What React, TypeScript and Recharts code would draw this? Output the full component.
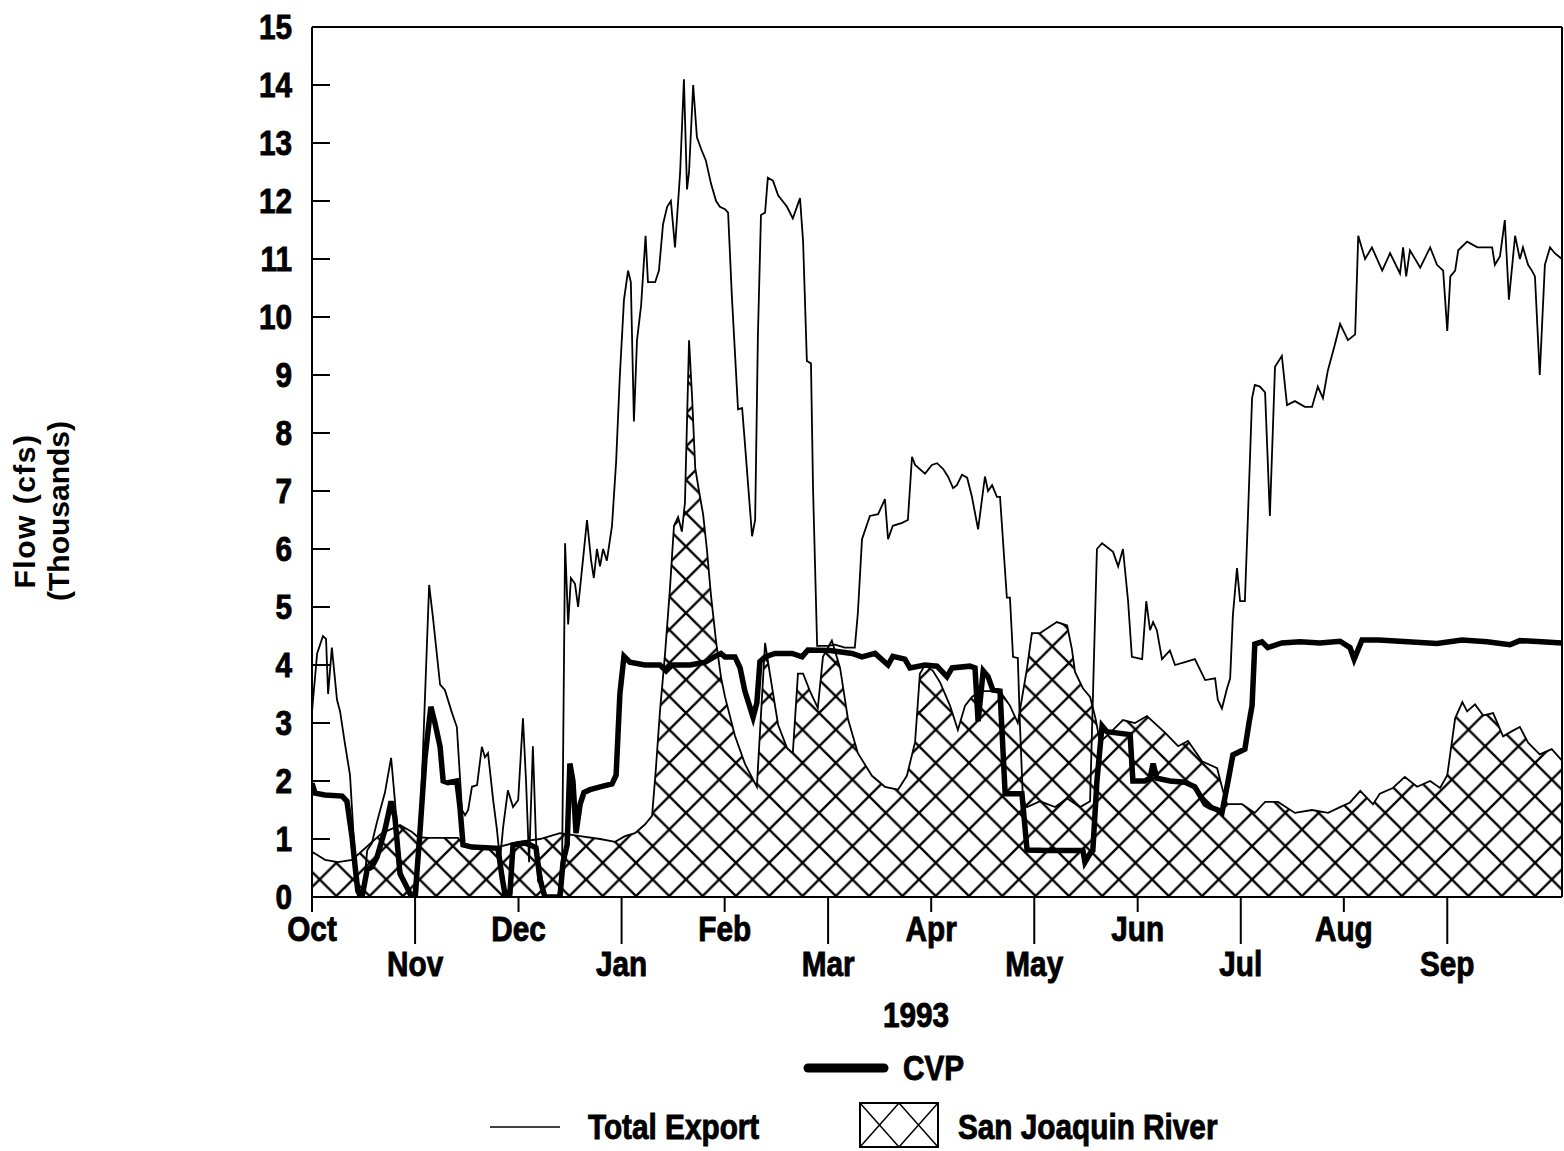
import React from 'react'
import { ComposedChart, Line, Area, XAxis, YAxis, ReferenceLine } from 'recharts'

// water year 1993, x = day since 1 Oct 1992
const monthLabels = ['Oct', 'Nov', 'Dec', 'Jan', 'Feb', 'Mar', 'Apr', 'May', 'Jun', 'Jul', 'Aug', 'Sep']
const monthTicks = [0, 30.1, 60.3, 90.4, 120.5, 150.7, 180.8, 210.9, 241.1, 271.2, 301.3, 331.5]
const flowTicks = [0, 1, 2, 3, 4, 5, 6, 7, 8, 9, 10, 11, 12, 13, 14, 15]

// Total Export (thousand cfs)
const exportDays = [
  0, 1.5, 3.2, 4.1, 4.7, 5.8, 7.3, 8.2, 9.6, 11.1, 12.6, 13.4, 14.9, 16.1, 17.5, 19, 21.3, 23.1, 24.2, 25.7,
  27.2, 28.6, 30.7, 32.4, 34.2, 35.3, 37.4, 38.8, 40.9, 42.3, 43.8, 44.7, 45.6, 46.7, 48.2, 49.6, 50.5, 51.4,
  52.9, 54, 54.9, 55.8, 57.2, 58.7, 60.2, 61.6, 62.5, 63.4, 64.5, 65.4, 66, 66.9, 68, 71.8, 73, 73.9, 74.8,
  75.6, 76.8, 77.7, 79.1, 80.3, 81.5, 82.3, 83.2, 84.1, 85, 86.1, 87.6, 88.8, 89.9, 91.1, 92.3, 93.1, 94,
  94.9, 96.1, 97.4, 98.1, 100.2, 101.3, 102.5, 103.7, 104.8, 106, 107.5, 108.6, 109.5, 110.1, 111.3, 112.4,
  113.6, 115, 116.5, 118, 119.1, 120.6, 121.5, 122.6, 124.4, 125.6, 126.4, 128.5, 129.4, 130.2, 131.1, 132.3,
  133.1, 134.6, 136.1, 138.7, 140.4, 142.5, 143.4, 144.5, 145.7, 146.3, 147.5, 150.7, 152.7, 155.6, 158.5,
  159.4, 160.6, 162.9, 165.3, 167.3, 168.2, 169.6, 172.3, 174, 175.2, 176.1, 179, 181, 182.5, 184.3, 185.7,
  187.2, 188.3, 189.8, 191.3, 192.7, 194.5, 196.5, 197.4, 198.6, 200, 200.9, 202.9, 203.8, 204.7, 206.1,
  206.7, 207.6, 208.8, 212.6, 217, 220.5, 224.3, 227.2, 229.2, 230.7, 233.9, 235.4, 236.8, 238.3, 239.4,
  242.4, 243.6, 244.7, 245.6, 246.7, 248.2, 250.5, 252, 254.9, 257.8, 260.8, 263.7, 264.5, 265.7, 267.2,
  268.1, 268.9, 270.1, 271, 272.4, 273.3, 274.5, 275.3, 276.8, 278.3, 279.7, 281.2, 283.2, 284.7, 287,
  289.9, 292, 293.7, 295.2, 296.6, 298.7, 300.2, 302.5, 304.6, 305.5, 307.5, 309.5, 312.5, 314.8, 317.7,
  318.6, 319.5, 320.6, 323.6, 326.5, 328.5, 330.3, 331.5, 332.4, 333.8, 334.7, 337.3, 340.3, 344.6, 345.4,
  346.9, 348.3, 349.5, 351.3, 352.7, 353.6, 355.1, 356.2, 357.1, 358.5, 360, 361.5, 362.9, 365,
]
const exportFlow = [
  3.2, 4.2, 4.5, 4.45, 3.5, 4.3, 3.4, 3.2, 2.65, 2.1, 0.6, 0, 0, 0.8, 0.93, 1.3, 1.8, 2.4, 1.67, 0.5,
  0.25, 0, 0, 2.5, 5.38, 4.83, 3.66, 3.57, 3.17, 2.93, 1.5, 1.41, 1.5, 1.9, 1.93, 2.59, 2.41, 2.48,
  1.67, 1.16, 0.64, 1.2, 1.84, 1.55, 1.67, 3.08, 2.0, 0.6, 2.6, 1.0, 0.3, 0.4, 0, 0, 0.4, 6.1, 4.7,
  5.5, 5.4, 5.0, 5.8, 6.5, 5.8, 5.5, 6.0, 5.7, 6.0, 5.8, 6.4, 7.5, 9.0, 10.3, 10.8, 10.6, 8.2,
  9.6, 10.2, 11.4, 10.6, 10.6, 10.8, 11.6, 11.9, 12.0, 11.2, 12.5, 14.1, 12.2, 12.5, 14.0, 13.1,
  12.9, 12.7, 12.3, 12.0, 11.9, 11.86, 11.8, 10.36, 8.41, 8.43, 7.83, 6.22, 6.5, 9.67, 11.76, 11.8,
  12.4, 12.35, 12.1, 11.9, 11.7, 12.05, 11.3, 9.24, 9.2, 7.05, 4.33, 4.33, 4.35, 4.3, 4.3,
  4.9, 6.17, 6.57, 6.6, 6.86, 6.17, 6.4, 6.45, 6.5, 7.59, 7.45, 7.3, 7.45, 7.48, 7.38, 7.25,
  7.05, 7.1, 7.28, 7.23, 6.9, 6.34, 7.25, 7.0, 7.1, 6.9, 6.9, 5.16, 5.16, 4.14, 4.12,
  3.0, 1.67, 1.55, 1.65, 1.55, 1.7, 1.55, 1.65, 6.0, 6.1, 5.95, 5.7, 6.0, 5.1, 4.14,
  4.1, 5.1, 4.6, 4.74, 4.6, 4.1, 4.25, 4.0, 4.05, 4.1, 3.74, 3.77, 3.4, 3.25, 3.6,
  3.77, 4.86, 5.67, 5.1, 5.1, 6.57, 8.6, 8.83, 8.8, 8.7, 6.57, 9.14, 9.33, 8.48, 8.55,
  8.45, 8.45, 8.8, 8.6, 9.07, 9.53, 9.88, 9.6, 9.7, 11.4, 11.0, 11.2, 10.8, 11.1, 10.75,
  11.2, 10.7, 11.15, 10.85, 11.2, 10.9, 10.8, 9.76, 10.7, 10.8, 11.15, 11.3, 11.2, 11.2, 10.9,
  11.05, 11.67, 10.3, 11.4, 11.0, 11.2, 10.9, 10.8, 10.7, 9.0, 10.9, 11.2, 11.1, 11.0,
]

// CVP (thousand cfs)
const cvpDays = [
  0, 0.9, 3.8, 8.8, 10.2, 11.7, 12.6, 13.4, 14.6, 16.1, 17.5, 19, 21.3, 23.1, 24.2, 25.7, 27.2, 28.6, 30.1,
  31.5, 33, 34.7, 35.9, 37.4, 38.3, 39.7, 42.3, 43.2, 44.1, 46.7, 54.3, 55.5, 56.4, 57.8, 58.7, 62.2, 63.7,
  65.4, 66.6, 68, 72.4, 73.3, 74.5, 75.3, 76.2, 77.1, 78.3, 79.4, 81.2, 84.1, 87.6, 88.8, 89.9, 91.1, 92.8,
  97.2, 101.6, 103.4, 105.1, 110.4, 114.8, 117.7, 119.4, 120.6, 123.5, 125, 126.4, 128.8, 129.9, 130.8,
  132.3, 135.2, 140.2, 143.1, 144.8, 151.2, 157.7, 160.6, 164.4, 168.2, 169.6, 173.1, 174.6, 179, 182.5,
  185.4, 186.9, 192.1, 193.6, 194.5, 196, 197.4, 198.8, 200.9, 202.4, 207.3, 208.8, 214.6, 225.1, 225.7,
  227.2, 228, 229.2, 230.7, 232.1, 238.9, 239.7, 243.2, 244.7, 245.6, 246.7, 250.5, 254.9, 257.8, 260.8,
  262.2, 264.5, 265.7, 267.5, 268.9, 272.4, 273.6, 274.5, 275.3, 277.4, 279.1, 283.2, 288.5, 294.3, 300.2,
  303.1, 304.3, 306.6, 311.5, 328.5, 335.8, 343.1, 349.8, 352.7, 359.1, 365,
]
const cvpFlow = [
  1.96, 1.79, 1.76, 1.74, 1.65, 1.03, 0.52, 0.1, 0, 0.47, 0.52, 0.69, 1.16, 1.65, 1.38, 0.4, 0.23, 0.06, 0,
  1.1, 2.4, 3.28, 3.0, 2.59, 2.0, 1.97, 2.0, 1.55, 0.9, 0.86, 0.84, 0.34, 0.03, 0.06, 0.9, 0.93, 0.9,
  0.85, 0.3, 0, 0, 0.6, 0.9, 2.3, 2.0, 1.1, 1.6, 1.8, 1.85, 1.9, 1.95, 2.1, 3.5, 4.15, 4.05,
  4.0, 4.0, 3.9, 4.0, 4.0, 4.05, 4.15, 4.2, 4.14, 4.14, 3.95, 3.55, 3.1, 3.35, 4.06,
  4.14, 4.2, 4.2, 4.14, 4.26, 4.25, 4.2, 4.14, 4.2, 4.0, 4.15, 4.1, 3.95, 4.0, 3.98,
  3.8, 3.95, 3.98, 3.95, 3.03, 3.9, 3.8, 3.57, 3.55, 1.78, 1.78, 0.81, 0.8, 0.8, 0.6,
  0.75, 0.8, 2.0, 2.95, 2.85, 2.8, 2.0, 2.0, 2.05, 2.3, 2.05, 2.0, 1.98, 1.9, 1.6,
  1.55, 1.5, 1.45, 2.0, 2.45, 2.55, 3.0, 3.3, 4.36, 4.4, 4.3, 4.38, 4.4, 4.38, 4.41,
  4.3, 4.1, 4.43, 4.43, 4.37, 4.43, 4.4, 4.35, 4.42, 4.4, 4.38,
]

// San Joaquin River (thousand cfs)
const sjrDays = [
  0, 3.8, 7.6, 11.7, 15.5, 20.4, 25.7, 29.2, 31, 33.9, 42.6, 44.7, 48.5, 54.3, 60.2, 66.6, 72.4, 78.3, 84.1,
  88.5, 91.4, 94.3, 97.2, 99.3, 100.4, 101.6, 103.1, 104.5, 105.7, 106.9, 108, 108.9, 110.1, 111, 111.9, 113,
  114.2, 115.3, 116.5, 118, 119.4, 120.6, 123.5, 126.4, 129.9, 131.4, 132.3, 133.7, 136.1, 138.7, 140.4, 141.9,
  143.4, 145.4, 147.7, 149.2, 151.8, 154.2, 156.5, 159.4, 163.5, 167.3, 171.1, 173.7, 176.1, 177.5, 179, 181.3,
  183.4, 186.3, 188.6, 190.7, 192.7, 195.1, 200.9, 203.8, 206.1, 208.8, 210.2, 212.6, 217.5, 220.5, 221.9,
  222.8, 225.1, 227.2, 228.7, 230.1, 233.9, 236.8, 240.3, 243.8, 249, 252.9, 255.8, 259.9, 264.3, 266, 267.2,
  271.6, 275.3, 278.3, 282.1, 287, 292, 296.7, 300.2, 303.1, 306.1, 309.8, 311.8, 315.6, 319.1, 322.7, 326.5,
  329.4, 331.5, 333.8, 335.9, 337.3, 339.6, 342, 344.9, 347.8, 350.4, 352.7, 355.1, 358.5, 362, 365,
]
const sjrFlow = [
  0.78, 0.64, 0.6, 0.64, 0.84, 1.1, 1.24, 1.12, 1.03, 1.02, 1.02, 0.86, 0.86, 0.86, 0.95, 1.0, 1.1, 1.05, 1.0,
  0.95, 1.05, 1.1, 1.25, 1.4, 2.2, 3.2, 4.2, 5.3, 6.4, 6.55, 6.3, 6.8, 9.6, 8.6, 7.4, 7.0,
  6.6, 6.0, 5.2, 4.4, 3.8, 3.45, 2.78, 2.3, 1.9, 3.45, 4.38, 3.85, 2.97, 2.57, 2.48, 3.85,
  3.85, 3.55, 3.26, 4.14, 4.42, 3.95, 3.07, 2.48, 2.09, 1.9, 1.85, 2.09, 2.67, 3.85, 4.0, 3.9,
  3.7, 3.3, 2.88, 3.3, 3.45, 3.55, 3.55, 3.3, 3.0, 3.95, 4.55, 4.55, 4.74, 4.68, 4.27,
  3.88, 3.6, 3.45, 3.1, 2.67, 2.88, 3.05, 3.0, 3.12, 2.84, 2.6, 2.69, 2.34, 2.22, 1.83, 1.6,
  1.6, 1.45, 1.64, 1.64, 1.45, 1.5, 1.45, 1.55, 1.63, 1.83, 1.6, 1.78, 1.88, 2.07, 1.9, 2.0,
  1.88, 2.1, 3.08, 3.36, 3.2, 3.32, 3.13, 3.17, 2.77, 2.86, 2.93, 2.66, 2.46, 2.55, 2.35,
]

type Row = { day: number; total?: number; cvp?: number; sjr?: number }

function buildRows(): Row[] {
  const map = new Map<number, Row>()
  const put = (days: number[], vals: number[], key: 'total' | 'cvp' | 'sjr') => {
    days.forEach((d, i) => {
      const row = map.get(d) ?? { day: d }
      row[key] = vals[i]
      map.set(d, row)
    })
  }
  put(exportDays, exportFlow, 'total')
  put(cvpDays, cvpFlow, 'cvp')
  put(sjrDays, sjrFlow, 'sjr')
  return Array.from(map.values()).sort((a, b) => a.day - b.day)
}

const rows = buildRows()

const FONT = "'Liberation Sans', Arial, sans-serif"

// bold condensed label: Arial-metric bold squeezed horizontally, slightly thickened
function NarrowText({ x, y, anchor = 'start', children }: { x: number; y: number; anchor?: string; children: React.ReactNode }) {
  return (
    <text
      transform={`translate(${x} ${y}) scale(0.85 1)`}
      textAnchor={anchor as any}
      fontFamily={FONT}
      fontWeight={700}
      fontSize={35}
      fill="#000"
      stroke="#000"
      strokeWidth={0.9}
    >
      {children}
    </text>
  )
}

function MonthTick(props: any) {
  const { x, y, index } = props
  const low = index % 2 === 1
  return (
    <g>
      <line x1={x} x2={x} y1={y} y2={low ? y + 47 : y + 15} stroke="#000" strokeWidth={2} />
      <NarrowText x={x} y={low ? y + 79 : y + 44} anchor="middle">
        {monthLabels[index]}
      </NarrowText>
    </g>
  )
}

function FlowTick(props: any) {
  const { x, y, payload } = props
  return (
    <g>
      <line x1={x} x2={x + 18} y1={y} y2={y} stroke="#000" strokeWidth={2} />
      <NarrowText x={x - 20} y={y + 12} anchor="end">
        {payload.value}
      </NarrowText>
    </g>
  )
}

export default function App() {
  return (
    <div style={{ position: 'absolute', left: 0, top: 0, width: 1564, height: 1151, background: '#fff' }}>
      <ComposedChart width={1564} height={1151} data={rows} margin={{ top: 27, right: 2, bottom: 174, left: 232 }}>
        <defs>
          <pattern id="sjrHatch" patternUnits="userSpaceOnUse" width={33.3} height={33.3} x={3.3} y={30.3}>
            <path d="M0,0 L33.3,33.3 M0,33.3 L33.3,0" stroke="#000" strokeWidth={2.3} fill="none" />
          </pattern>
        </defs>
        <XAxis
          type="number"
          dataKey="day"
          domain={[0, 365]}
          ticks={monthTicks}
          interval={0}
          tick={<MonthTick />}
          tickLine={false}
          tickSize={0}
          tickMargin={0}
          height={80}
          axisLine={{ stroke: '#000', strokeWidth: 2 }}
          allowDataOverflow
        />
        <YAxis
          type="number"
          domain={[0, 15]}
          ticks={flowTicks}
          interval={0}
          tick={<FlowTick />}
          tickLine={false}
          tickSize={0}
          tickMargin={0}
          width={80}
          axisLine={{ stroke: '#000', strokeWidth: 2 }}
          allowDataOverflow
        />
        <ReferenceLine y={15} stroke="#000" strokeWidth={2} />
        <ReferenceLine x={365} stroke="#000" strokeWidth={2} />
        <Area
          dataKey="sjr"
          type="linear"
          stroke="#000"
          strokeWidth={1.8}
          fill="url(#sjrHatch)"
          fillOpacity={1}
          connectNulls
          dot={false}
          activeDot={false}
          isAnimationActive={false}
        />
        <Line
          dataKey="total"
          type="linear"
          stroke="#000"
          strokeWidth={1.8}
          connectNulls
          dot={false}
          activeDot={false}
          isAnimationActive={false}
        />
        <Line
          dataKey="cvp"
          type="linear"
          stroke="#000"
          strokeWidth={5.5}
          connectNulls
          dot={false}
          activeDot={false}
          isAnimationActive={false}
        />
      </ComposedChart>
      <svg width={1564} height={1151} style={{ position: 'absolute', left: 0, top: 0, pointerEvents: 'none' }}>
        <g fontFamily={FONT} fontWeight={700} fontSize={30} fill="#000" textAnchor="middle">
          <text transform="translate(35,511) rotate(-90)" letterSpacing={1.5}>Flow (cfs)</text>
          <text transform="translate(69,511) rotate(-90)">(Thousands)</text>
        </g>
        <NarrowText x={916} y={1027} anchor="middle">1993</NarrowText>
        <line x1={808} x2={884} y1={1068} y2={1068} stroke="#000" strokeWidth={9} strokeLinecap="round" />
        <NarrowText x={903} y={1080}>CVP</NarrowText>
        <line x1={490} x2={560} y1={1127} y2={1127} stroke="#000" strokeWidth={1.5} />
        <NarrowText x={588} y={1139}>Total Export</NarrowText>
        <rect x={860} y={1103} width={78} height={44} fill="none" stroke="#000" strokeWidth={2} />
        <path d="M860,1103 L899,1147 M899,1103 L860,1147 M899,1103 L938,1147 M938,1103 L899,1147" stroke="#000" strokeWidth={1.5} />
        <NarrowText x={958} y={1139}>San Joaquin River</NarrowText>
      </svg>
    </div>
  )
}
